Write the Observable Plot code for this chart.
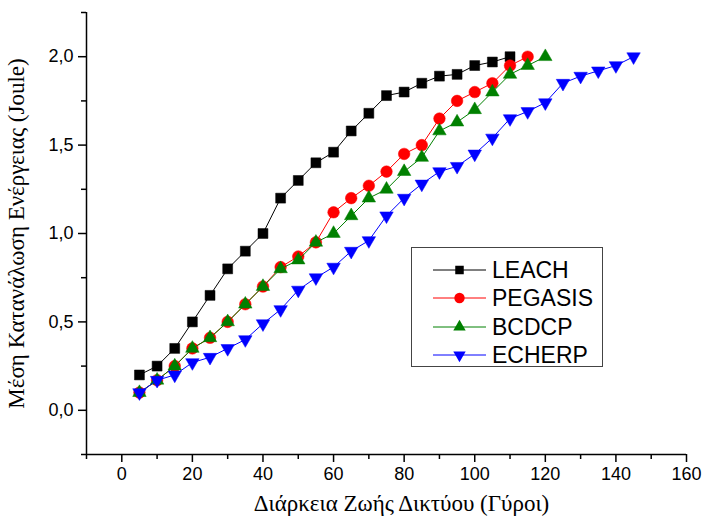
<!DOCTYPE html>
<html>
<head>
<meta charset="utf-8">
<script src="https://cdn.jsdelivr.net/npm/d3@7"></script>
<script src="https://cdn.jsdelivr.net/npm/@observablehq/plot@0.6"></script>
<style>
  html, body { margin: 0; padding: 0; background: white; }
  #wrap { position: relative; width: 703px; height: 530px; }
  #legend {
    position: absolute; left: 411px; top: 247px; width: 192px; height: 120px;
    border: 1px solid #444; background: white; box-sizing: border-box;
    font-family: "Liberation Sans", Arial, sans-serif; font-size: 23px; color: black;
  }
  .lrow { position: absolute; left: 0; height: 28px; display: flex; align-items: center; }
  .lrow svg { display: block; }
  .lrow span { margin-left: 6px; line-height: 28px; }
</style>
</head>
<body>
<div id="wrap"></div>
<script>
// ---- data ----
const rounds = [5,10,15,20,25,30,35,40,45,50,55,60,65,70,75,80,85,90,95,100,105,110,115,120,125,130,135,140,145];
const seriesNames = ["LEACH", "PEGASIS", "BCDCP", "ECHERP"];
const leach   = [0.2,0.25,0.35,0.5,0.65,0.8,0.9,1.0,1.2,1.3,1.4,1.46,1.58,1.68,1.78,1.8,1.85,1.89,1.9,1.95,1.97,2.0];
const pegasis = [0.1,0.17,0.25,0.35,0.41,0.5,0.6,0.7,0.81,0.87,0.95,1.12,1.2,1.27,1.35,1.45,1.5,1.65,1.75,1.8,1.85,1.95,2.0];
const bcdcp   = [0.1,0.17,0.25,0.35,0.41,0.5,0.6,0.7,0.8,0.85,0.95,1.0,1.1,1.2,1.25,1.35,1.43,1.58,1.63,1.7,1.8,1.9,1.95,2.0];
const echerp  = [0.1,0.17,0.2,0.27,0.3,0.35,0.4,0.49,0.57,0.68,0.75,0.81,0.9,0.96,1.1,1.2,1.28,1.35,1.38,1.45,1.54,1.65,1.69,1.74,1.85,1.89,1.92,1.95,2.0];
const xMajorTicks = [0,20,40,60,80,100,120,140,160];
const xMinorTicks = [-10,10,30,50,70,90,110,130,150];
const yMajorTicks = [0,0.5,1.0,1.5,2.0];
const yMinorTicks = [-0.25,0.25,0.75,1.25,1.75,2.25];
const xTitle = "Διάρκεια Ζωής Δικτύου (Γύροι)";
const yTitle = "Μέση Κατανάλωση Ενέργειας (Joule)";

// ---- styles ----
const serif = "'Liberation Serif', 'Times New Roman', serif";
const triangleDown = {
  draw(context, size) {
    const y = -Math.sqrt(size / (Math.sqrt(3) * 3));
    context.moveTo(0, -y * 2);
    context.lineTo(-Math.sqrt(3) * y, y);
    context.lineTo(Math.sqrt(3) * y, y);
    context.closePath();
  }
};
const colors = ["#000000", "#ff0000", "#008000", "#0000ff"];
const symbols = [d3.symbolSquare, d3.symbolCircle, d3.symbolTriangle, triangleDown];
const radii = [5.6, 5.8, 5.0, 5.0];
const values = [leach, pegasis, bcdcp, echerp];

const fmt = d => d3.format(".1f")(d).replace(".", ",");

const seriesMarks = seriesNames.flatMap((name, k) => {
  const rows = values[k].map((v, i) => ({series: name, round: rounds[i], energy: v}));
  return [
    Plot.line(rows, {x: "round", y: "energy", stroke: colors[k], strokeWidth: 1}),
    Plot.dot(rows, {x: "round", y: "energy", symbol: symbols[k], r: radii[k], fill: colors[k], stroke: colors[k], strokeWidth: 0.5})
  ];
});

const chart = Plot.plot({
  width: 703,
  height: 530,
  marginLeft: 86,
  marginRight: 17,
  marginTop: 12,
  marginBottom: 76,
  style: {fontFamily: "'Liberation Sans', Arial, sans-serif", fontSize: "18px", color: "black", background: "white"},
  x: {domain: [-10, 160]},
  y: {domain: [-0.25, 2.25]},
  marks: [
    Plot.axisX({ticks: xMajorTicks, tickSize: 8, tickPadding: 5, strokeWidth: 1.5, label: null, fontSize: 18}),
    Plot.axisX({ticks: xMinorTicks, tickSize: 5, strokeWidth: 1.5, tickFormat: () => "", label: null}),
    Plot.text([xTitle], {frameAnchor: "bottom", dy: 56, dx: 15, fontFamily: serif, fontSize: 23, fill: "black"}),
    Plot.axisY({ticks: yMajorTicks, tickSize: 8, tickPadding: 5, strokeWidth: 1.5, tickFormat: fmt, label: yTitle, labelAnchor: "center", labelOffset: 79, labelArrow: "none", fontSize: 18}),
    Plot.axisY({ticks: yMinorTicks, tickSize: 5, strokeWidth: 1.5, tickFormat: () => "", label: null}),
    Plot.ruleY([-0.25], {strokeWidth: 1.5}),
    Plot.ruleX([-10], {strokeWidth: 1.5}),
    ...seriesMarks
  ]
});
// y-axis title in a serif face, as in the reference
d3.select(chart).selectAll("text").each(function () {
  if (this.textContent === yTitle) {
    d3.select(this).style("font-family", serif).style("font-size", "23px");
  }
});
const wrap = document.getElementById("wrap");
wrap.appendChild(chart);

// ---- legend ----
const legend = document.createElement("div");
legend.id = "legend";
const legendSizes = [4.8, 5.2, 4.6, 4.6];
seriesNames.forEach((name, k) => {
  const row = document.createElement("div");
  row.className = "lrow";
  row.style.top = (8 + k * 28.3) + "px";
  const svg = d3.create("svg").attr("width", 74).attr("height", 28);
  svg.append("line").attr("x1", 21).attr("x2", 74).attr("y1", 14).attr("y2", 14)
    .attr("stroke", colors[k]).attr("stroke-width", 1);
  svg.append("path").attr("transform", "translate(47.5,14)")
    .attr("d", d3.symbol(symbols[k], Math.PI * legendSizes[k] * legendSizes[k])())
    .attr("fill", colors[k]);
  row.appendChild(svg.node());
  const span = document.createElement("span");
  span.textContent = name;
  row.appendChild(span);
  legend.appendChild(row);
});
wrap.appendChild(legend);
</script>
</body>
</html>
